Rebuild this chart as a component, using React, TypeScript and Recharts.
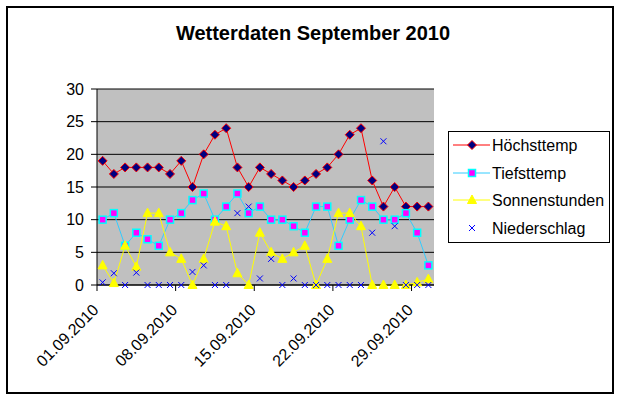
import { LineChart, Line, XAxis, YAxis, CartesianGrid } from 'recharts';

const DAYS = [
  '01.09.2010', '02.09.2010', '03.09.2010', '04.09.2010', '05.09.2010', '06.09.2010',
  '07.09.2010', '08.09.2010', '09.09.2010', '10.09.2010', '11.09.2010', '12.09.2010',
  '13.09.2010', '14.09.2010', '15.09.2010', '16.09.2010', '17.09.2010', '18.09.2010',
  '19.09.2010', '20.09.2010', '21.09.2010', '22.09.2010', '23.09.2010', '24.09.2010',
  '25.09.2010', '26.09.2010', '27.09.2010', '28.09.2010', '29.09.2010', '30.09.2010',
];
const HOECHST = [19, 17, 18, 18, 18, 18, 17, 19, 15, 20, 23, 24, 18, 15, 18, 17, 16, 15, 16, 17, 18, 20, 23, 24, 16, 12, 15, 12, 12, 12];
const TIEFST = [10, 11, 6, 8, 7, 6, 10, 11, 13, 14, 10, 12, 14, 11, 12, 10, 10, 9, 8, 12, 12, 6, 10, 13, 12, 10, 10, 11, 8, 3];
const SONNE = [3, 0.3, 6, 2.8, 11, 11, 5, 4, 0, 4, 9.7, 9, 1.8, 0, 8, 5, 4, 5, 6, 0, 4, 11, 11, 9, 0, 0, 0, 0, 0.4, 0.9];
const NIEDER = [0.4, 1.8, 0, 1.9, 0, 0, 0, 0, 2, 3, 0, 0, 11, 12, 1, 4, 0, 1, 0, 0, 0, 0, 0, 0, 8, 22, 9, 0, 0, 0];
const Y_TICKS = [0, 5, 10, 15, 20, 25, 30];

const W = 624;
const H = 401;
const MARGIN = { top: 89, right: 190, bottom: 0, left: 0 };
const Y_AXIS_W = 97;
const X_AXIS_H = 116;
const BAND = (W - MARGIN.right - MARGIN.left - Y_AXIS_W) / DAYS.length;
const PAD = { left: BAND / 2, right: BAND / 2 };
const FONT = '"Liberation Sans", Arial, sans-serif';

const data = DAYS.map((day, i) => ({
  day,
  hoechst: HOECHST[i],
  tiefst: TIEFST[i],
  sonne: SONNE[i],
  nieder: NIEDER[i],
}));

// marker shapes, excel-2003 style
function Diamond({ cx, cy }: { cx: number; cy: number }) {
  const r = 4.5;
  return (
    <polygon
      points={`${cx},${cy - r} ${cx + r},${cy} ${cx},${cy + r} ${cx - r},${cy}`}
      fill="#000080"
      stroke="#FF0000"
      strokeWidth={1}
    />
  );
}

function Square({ cx, cy }: { cx: number; cy: number }) {
  return <rect x={cx - 3.5} y={cy - 3.5} width={7} height={7} fill="#FF00FF" stroke="#00FFFF" strokeWidth={1.5} />;
}

function Triangle({ cx, cy }: { cx: number; cy: number }) {
  return (
    <polygon
      points={`${cx},${cy - 5} ${cx + 4.5},${cy + 3.5} ${cx - 4.5},${cy + 3.5}`}
      fill="#FFFF00"
      stroke="#FFFF00"
      strokeWidth={1}
    />
  );
}

function Cross({ cx, cy }: { cx: number; cy: number }) {
  const r = 3;
  return (
    <g stroke="#0000FF" strokeWidth={1}>
      <line x1={cx - r} y1={cy - r} x2={cx + r} y2={cy + r} />
      <line x1={cx - r} y1={cy + r} x2={cx + r} y2={cy - r} />
    </g>
  );
}

const SERIES = [
  { key: 'hoechst', name: 'Höchsttemp', line: '#FF0000', Marker: Diamond },
  { key: 'tiefst', name: 'Tiefsttemp', line: '#33CCFF', Marker: Square },
  { key: 'sonne', name: 'Sonnenstunden', line: '#FFFF00', Marker: Triangle },
  { key: 'nieder', name: 'Niederschlag', line: 'none', Marker: Cross },
];

function DateTick(props: any) {
  const { x, y, payload } = props;
  const tx = x - BAND / 2;
  return (
    <g>
      <line x1={tx} y1={y} x2={tx} y2={y + 6} stroke="#000" />
      <text
        x={x - 3}
        y={y + 26}
        textAnchor="end"
        fontSize={16}
        fontFamily={FONT}
        fill="#000"
        transform={`rotate(-45 ${x - 3} ${y + 26})`}
      >
        {payload.value}
      </text>
    </g>
  );
}

function LegendBox() {
  const rows = [14, 42, 69, 97];
  return (
    <svg width={163} height={113} style={{ position: 'absolute', left: 448, top: 131 }}>
      <rect x={0.5} y={0.5} width={161} height={111} fill="#fff" stroke="#000" />
      {SERIES.map((s, i) => (
        <g key={s.key}>
          {s.line !== 'none' && <line x1={5} x2={42} y1={rows[i]} y2={rows[i]} stroke={s.line} />}
          <s.Marker cx={24} cy={rows[i]} />
          <text x={44} y={rows[i]} dy="0.36em" fontSize={16} fontFamily={FONT} fill="#000">
            {s.name}
          </text>
        </g>
      ))}
    </svg>
  );
}

export default function App() {
  return (
    <div style={{ position: 'absolute', left: 0, top: 0, width: W, height: H, background: '#fff' }}>
      <div
        style={{
          position: 'absolute',
          left: 6,
          top: 6,
          width: 608,
          height: 388,
          boxSizing: 'border-box',
          border: '2px solid #000',
        }}
      />
      <div
        style={{
          position: 'absolute',
          left: 113,
          top: 23,
          width: 400,
          textAlign: 'center',
          fontFamily: FONT,
          fontWeight: 'bold',
          fontSize: 20,
          lineHeight: '20px',
        }}
      >
        Wetterdaten September 2010
      </div>
      <div style={{ position: 'absolute', left: 0, top: 0 }}>
        <LineChart width={W} height={H} data={data} margin={MARGIN} style={{ fontFamily: FONT }}>
          <CartesianGrid vertical={false} stroke="#000" fill="#C0C0C0" fillOpacity={1} />
          <XAxis
            dataKey="day"
            interval={6}
            height={X_AXIS_H}
            padding={PAD}
            axisLine={{ stroke: '#000' }}
            tickLine={false}
            tickSize={0}
            tickMargin={0}
            tick={<DateTick />}
          />
          <XAxis
            xAxisId="top"
            dataKey="day"
            orientation="top"
            height={0}
            padding={PAD}
            tick={false}
            tickLine={false}
            axisLine={{ stroke: '#808080' }}
          />
          <YAxis
            domain={[0, 30]}
            ticks={Y_TICKS}
            width={Y_AXIS_W}
            axisLine={{ stroke: '#000' }}
            tickLine={{ stroke: '#000' }}
            tickSize={6}
            tickMargin={7}
            tick={{ fontSize: 16, fill: '#000', fontFamily: FONT }}
          />
          <YAxis
            yAxisId="right"
            orientation="right"
            width={0}
            domain={[0, 30]}
            tick={false}
            tickLine={false}
            axisLine={{ stroke: '#808080' }}
          />
          {SERIES.map((s) => (
            <Line
              key={s.key}
              dataKey={s.key}
              name={s.name}
              type="linear"
              stroke={s.line}
              strokeWidth={1}
              isAnimationActive={false}
              dot={(p: any) => <s.Marker key={`${s.key}-${p.index}`} cx={p.cx} cy={p.cy} />}
              activeDot={false}
            />
          ))}
        </LineChart>
      </div>
      <LegendBox />
    </div>
  );
}
